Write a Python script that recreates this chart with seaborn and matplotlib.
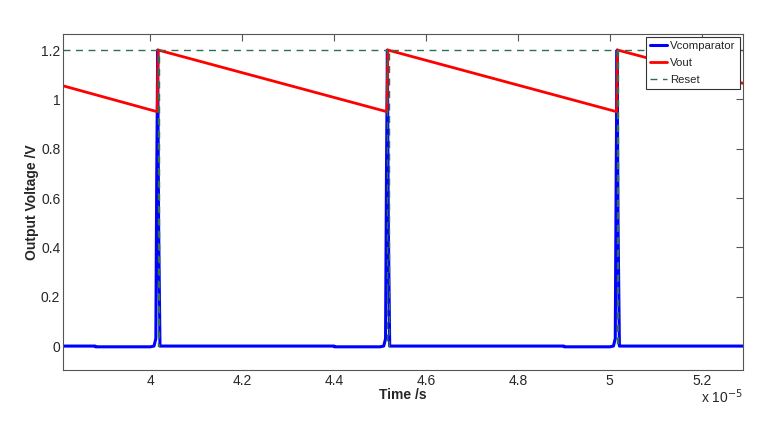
import numpy as np
import pandas as pd
import seaborn as sns
from matplotlib import pyplot as plt

# time in units of 1e-5 s
t_vout = [3.81, 4.015, 4.017, 4.515, 4.517, 5.015, 5.017, 5.29]
v_vout = [1.055, 0.95, 1.2, 0.95, 1.2, 0.95, 1.2, 1.065]

t_comp = [3.81, 3.88, 3.881, 4.0, 4.008, 4.012, 4.014, 4.016, 4.018, 4.021, 4.03, 4.4, 4.401,
          4.5, 4.508, 4.512, 4.514, 4.516, 4.518, 4.521, 4.53, 4.9, 4.901,
          5.0, 5.008, 5.012, 5.014, 5.016, 5.018, 5.021, 5.03, 5.29]
v_comp = [0.0, 0.0, -0.003, -0.003, 0.0, 0.03, 0.7, 1.2, 0.5, 0.0, 0.0, 0.0, -0.003,
          -0.003, 0.0, 0.03, 0.7, 1.2, 0.5, 0.0, 0.0, 0.0, -0.003,
          -0.003, 0.0, 0.03, 0.7, 1.2, 0.5, 0.0, 0.0, 0.0]

t_reset = [3.81, 4.016, 4.016, 4.019, 4.019, 4.516, 4.516, 4.519, 4.519,
           5.016, 5.016, 5.019, 5.019, 5.29]
v_reset = [1.2, 1.2, 0.0, 0.0, 1.2, 1.2, 0.0, 0.0, 1.2, 1.2, 0.0, 0.0, 1.2, 1.2]

sns.set_style("white")
plt.rcParams['font.family'] = ['Liberation Sans', 'DejaVu Sans']

fig = plt.figure(figsize=(7.84, 4.33), dpi=100)
ax = fig.add_axes([0.0804, 0.1455, 0.8673, 0.776])

df_c = pd.DataFrame({'t': t_comp, 'v': v_comp})
df_o = pd.DataFrame({'t': t_vout, 'v': v_vout})
df_r = pd.DataFrame({'t': t_reset, 'v': v_reset})

sns.lineplot(data=df_c, x='t', y='v', ax=ax, color='#0000ff', lw=2.2, label='Vcomparator',
             sort=False, estimator=None)
sns.lineplot(data=df_o, x='t', y='v', ax=ax, color='#ff0000', lw=2.0, label='Vout',
             sort=False, estimator=None)
sns.lineplot(data=df_r, x='t', y='v', ax=ax, color='#2e6e52', lw=1.0, label='Reset',
             sort=False, estimator=None, linestyle=(0, (5, 4)))

ax.set_xlim(3.81, 5.29)
ax.set_ylim(-0.097, 1.265)
ax.set_xticks([4, 4.2, 4.4, 4.6, 4.8, 5, 5.2])
ax.set_xticklabels(['4', '4.2', '4.4', '4.6', '4.8', '5', '5.2'])
ax.set_yticks([0, 0.2, 0.4, 0.6, 0.8, 1, 1.2])
ax.set_yticklabels(['0', '0.2', '0.4', '0.6', '0.8', '1', '1.2'])
ax.tick_params(direction='in', length=5, width=0.8, color='#555555', labelsize=10,
               top=True, right=True)
ax.tick_params(axis='x', pad=3)
ax.tick_params(axis='y', pad=2)
for s in ax.spines.values():
    s.set_color('#555555')
    s.set_linewidth(0.8)

ax.set_xlabel('Time /s', fontsize=10, fontweight='bold', labelpad=0)
ax.set_ylabel('Output Voltage /V', fontsize=10, fontweight='bold', labelpad=1)
ax.text(1.0, -0.08, r'x 10$^{-5}$', transform=ax.transAxes, ha='right', va='center', fontsize=10)

leg = ax.legend(loc='upper right', fontsize=8.2, frameon=True, fancybox=False, framealpha=1,
                handlelength=1.5, handletextpad=0.3, borderpad=0.35, labelspacing=0.6,
                borderaxespad=0.3)
leg.get_frame().set_edgecolor('#333333')
leg.get_frame().set_linewidth(0.8)

fig.savefig('out.png', dpi=100)
